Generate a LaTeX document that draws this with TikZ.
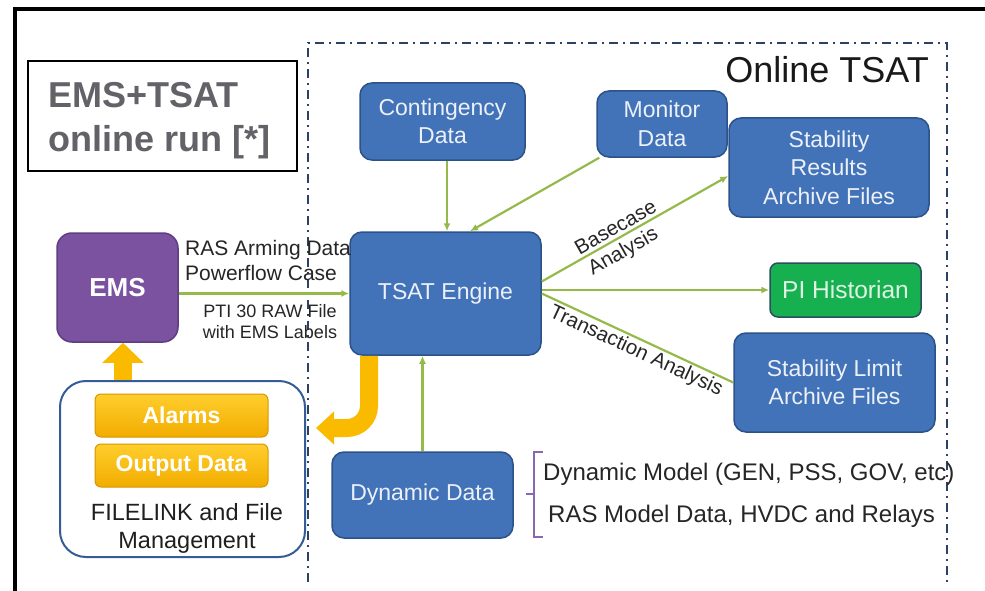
\documentclass[tikz,border=0pt]{standalone}
\usepackage{fontspec}
\setmainfont{Liberation Sans}
\usetikzlibrary{arrows.meta,calc}

\definecolor{boxblue}{RGB}{66,114,184}
\definecolor{boxblueedge}{RGB}{44,82,138}
\definecolor{boxtext}{RGB}{236,241,248}
\definecolor{emspurple}{RGB}{123,82,160}
\definecolor{emspurpleedge}{RGB}{95,62,128}
\definecolor{pigreen}{RGB}{22,176,80}
\definecolor{pigreenedge}{RGB}{40,78,96}
\definecolor{pitext}{RGB}{222,244,226}
\definecolor{flowgreen}{RGB}{150,186,74}
\definecolor{alarmtop}{RGB}{255,206,45}
\definecolor{alarmbot}{RGB}{242,172,0}
\definecolor{alarmedge}{RGB}{215,150,0}
\definecolor{bigarrow}{RGB}{250,186,0}
\definecolor{regionline}{RGB}{45,65,100}
\definecolor{titlegray}{RGB}{98,98,104}
\definecolor{bracketpurple}{RGB}{135,105,175}
\definecolor{fileedge}{RGB}{52,92,150}

\tikzset{
  blockbox/.style={draw=boxblueedge, line width=1.5pt, fill=boxblue,
    rounded corners=12pt, text=boxtext, align=center, inner sep=0pt,
    font=\fontsize{23}{28.5}\selectfont},
  emsbox/.style={draw=emspurpleedge, line width=1.5pt, fill=emspurple,
    rounded corners=15pt, text=white, inner sep=0pt,
    font=\bfseries\fontsize{26}{30}\selectfont},
  pibox/.style={draw=pigreenedge, line width=1.5pt, fill=pigreen,
    rounded corners=8pt, text=pitext, inner sep=0pt,
    font=\fontsize{24.5}{28}\selectfont},
  alarmbox/.style={draw=alarmedge, line width=1pt, top color=alarmtop,
    bottom color=alarmbot, rounded corners=6pt, text=white, inner sep=0pt,
    minimum width=173pt, minimum height=43pt,
    font=\bfseries\fontsize{23}{28}\selectfont},
  filebox/.style={draw=fileedge, line width=2pt, fill=white,
    rounded corners=26pt, inner sep=0pt},
  flow/.style={draw=flowgreen, line width=2.2pt, -{Latex[length=8pt,width=7pt]}},
  flowplain/.style={draw=flowgreen, line width=2.2pt},
  bigflow/.style={draw=bigarrow, line width=18pt},
  edgelabel/.style={font=\fontsize{20.5}{24}\selectfont, text=black!85, inner sep=1pt},
  sidetext/.style={font=\fontsize{21}{25}\selectfont, text=black!85, inner sep=0pt},
  smalltext/.style={font=\fontsize{18}{21}\selectfont, text=black!85, inner sep=0pt},
  listtext/.style={font=\fontsize{24}{28}\selectfont, text=black!85, inner sep=0pt},
}

\begin{document}
\begin{tikzpicture}[x=1pt, y=-1pt]
\useasboundingbox (0,0) rectangle (985,591);
\clip (0,0) rectangle (985,591);
\fill[white] (0,0) rectangle (985,591);

% outer frame (only its top and left sides lie on the page)
\draw[black, line width=4pt] (15,700) -- (15,9.5) -- (1100,9.5);

% Online TSAT region
\draw[regionline, line width=2pt, dash pattern=on 9pt off 5pt on 2pt off 5pt]
  (308,582) -- (308,43) -- (947,43) -- (947,585);
\node[anchor=base east, font=\fontsize{36}{40}\selectfont, text=black!90, inner sep=0pt]
  (online) at (929,83) {Online TSAT};

% title box
\node[draw=black, line width=1.5pt, minimum width=269pt, minimum height=110pt, inner sep=0pt]
  (title) at (162.5,116) {};
\node[anchor=base west, text=titlegray, font=\bfseries\fontsize{36}{44}\selectfont, inner sep=0pt]
  (title1) at (48,108) {EMS+TSAT};
\node[anchor=base west, text=titlegray, font=\bfseries\fontsize{36}{44}\selectfont, inner sep=0pt]
  (title2) at (48,152) {online run [*]};

% blocks
\node[blockbox, minimum width=165pt, minimum height=77pt] (cont) at (442.5,121.5) {Contingency\\Data};
\node[blockbox, minimum width=130pt, minimum height=66pt] (mon) at (662,124) {Monitor\\Data};
\node[blockbox, minimum width=200pt, minimum height=99pt] (sres) at (829,167.5) {Stability\\Results\\Archive Files};
\node[emsbox, minimum width=121pt, minimum height=109pt] (ems) at (117.5,287.5) {EMS};
\node[blockbox, minimum width=191pt, minimum height=123pt] (tsat) at (445.5,293.5) {TSAT Engine};
\node[pibox, minimum width=151pt, minimum height=54pt] (pi) at (845.5,290) {PI Historian};
\node[blockbox, minimum width=201pt, minimum height=99pt] (slim) at (834.5,382.5) {Stability Limit\\Archive Files};
\node[blockbox, minimum width=181pt, minimum height=86pt] (dyn) at (422.5,495) {Dynamic Data};

% file management group
\node[filebox, minimum width=245pt, minimum height=176pt] (fl) at (182.5,469) {};
\node[alarmbox] (alarms) at (181.5,415.5) {Alarms};
\node[alarmbox] (outdata) at (181.5,465.5) {Output Data};
\node[anchor=base, font=\fontsize{23.5}{28}\selectfont, text=black!88, inner sep=0pt]
  (fltext1) at (187,520) {FILELINK and File};
\node[anchor=base, font=\fontsize{23.5}{28}\selectfont, text=black!88, inner sep=0pt]
  (fltext2) at (187,548) {Management};

% EMS to TSAT feed and its labels
\draw[flow] (ems.east |- tsat.west) -- (tsat.west);
\node[sidetext, anchor=base west] (ras1) at (185,255) {RAS Arming Data};
\node[sidetext, anchor=base west] (ras2) at (185,280) {Powerflow Case};
\node[smalltext, anchor=base] (pti1) at (270,317) {PTI 30 RAW File};
\node[smalltext, anchor=base] (pti2) at (270,338) {with EMS Labels};

% inputs to the engine
\draw[flow] ([xshift=4.5pt]cont.south) -- ([xshift=4.5pt]cont.south |- tsat.north);
\draw[flow] ([xshift=3pt]mon.south west) -- ([xshift=24.5pt]tsat.north);
\draw[flow] (dyn.north) -- (dyn.north |- tsat.south);

% engine outputs
\draw[flow] ([yshift=12pt]tsat.east) --
  node[edgelabel, sloped, above=2pt, pos=0.425] {Basecase}
  node[edgelabel, sloped, below=3pt, pos=0.40] {Analysis}
  ([yshift=-8.5pt]sres.west);
\draw[flow] (tsat.east |- pi.west) -- (pi.west);
\draw[flowplain] (tsat.east) -- node[edgelabel, sloped, below=1pt, pos=0.52] {Transaction Analysis} (slim.west);

% result transfer arrows
\draw[bigflow, -{Triangle[length=20pt,width=40pt]}]
  ([xshift=-59.5pt]fl.north) -- ([xshift=-59.5pt]fl.north |- ems.south);
\draw[bigflow, rounded corners=22pt, -{Triangle[length=18pt,width=32pt]}]
  ([xshift=-76.5pt]tsat.south) |- ([shift={(10pt,41pt)}]fl.east);

% dynamic data contents
\draw[bracketpurple, line width=1.8pt] (543,452) -- (534,452) -- (534,537) -- (543,537);
\draw[bracketpurple, line width=1.8pt] (534,494) -- (526,494);
\node[listtext, anchor=base west] (dm1) at (543,480) {Dynamic Model (GEN, PSS, GOV, etc)};
\node[listtext, anchor=base west] (dm2) at (548,522) {RAS Model Data, HVDC and Relays};
\end{tikzpicture}
\end{document}
